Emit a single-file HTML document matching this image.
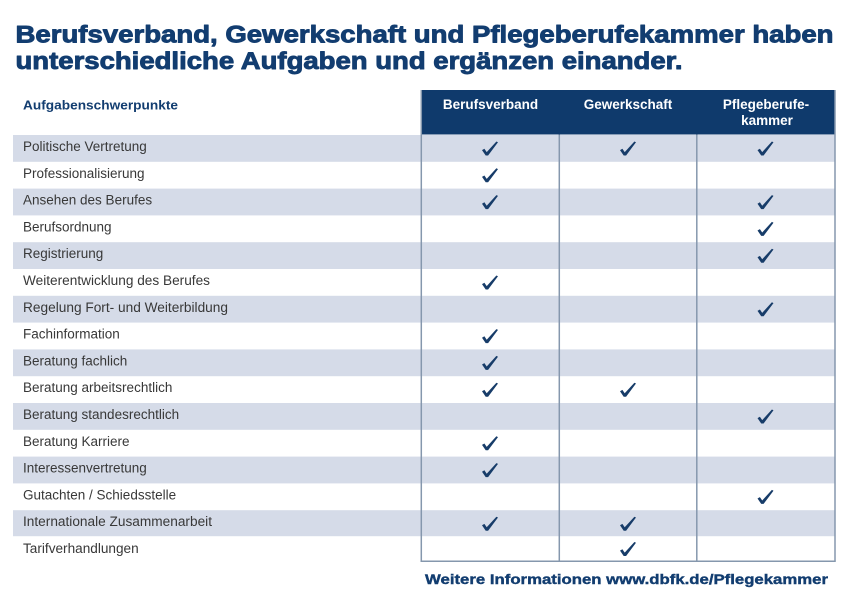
<!DOCTYPE html>
<html><head><meta charset="utf-8"><style>
html,body{margin:0;padding:0;background:#fff;}
svg{display:block;}
</style></head><body>
<svg width="848" height="616" viewBox="0 0 848 616" xmlns="http://www.w3.org/2000/svg">
<defs>
<path id="ck" d="M -8 1.6 L -5.6 0.2 L -3.3 3.6 L 6.4 -7 L 8 -6.2 L -1.9 7 L -4.3 7 Z" fill="#173c69"/>
</defs>
<rect width="848" height="616" fill="#fff"/>
<g font-family="'Liberation Sans', Arial, sans-serif" font-weight="bold" fill="#123d70" stroke="#123d70" stroke-width="0.9" stroke-linejoin="round" font-size="24">
<text x="15.5" y="42.5" textLength="818" lengthAdjust="spacingAndGlyphs">Berufsverband, Gewerkschaft und Pflegeberufekammer haben</text>
<text x="15.5" y="69" textLength="667" lengthAdjust="spacingAndGlyphs">unterschiedliche Aufgaben und ergänzen einander.</text>
</g>
<!-- header -->
<rect x="421" y="90" width="414" height="44.5" fill="#0f3a6c"/>
<g font-family="'Liberation Sans', Arial, sans-serif" font-weight="bold" font-size="13.5">
<text x="23" y="109.3" fill="#123d70" font-size="13" textLength="155" lengthAdjust="spacingAndGlyphs">Aufgabenschwerpunkte</text>
<text x="490.5" y="109" fill="#fff" text-anchor="middle">Berufsverband</text>
<text x="628" y="109" fill="#fff" text-anchor="middle">Gewerkschaft</text>
<text x="766" y="109" fill="#fff" text-anchor="middle">Pflegeberufe-</text>
<text x="767" y="125" fill="#fff" text-anchor="middle">kammer</text>
</g>
<!-- stripes -->
<g fill="#d5dbe8">
<rect x="13" y="135" width="822" height="26.8"/>
<rect x="13" y="188.6" width="822" height="26.8"/>
<rect x="13" y="242.2" width="822" height="26.8"/>
<rect x="13" y="295.8" width="822" height="26.8"/>
<rect x="13" y="349.4" width="822" height="26.8"/>
<rect x="13" y="403" width="822" height="26.8"/>
<rect x="13" y="456.6" width="822" height="26.8"/>
<rect x="13" y="510.2" width="822" height="26"/>
</g>
<!-- grid lines -->
<g stroke="#8597ad" stroke-width="1.5" fill="none">
<line x1="421.3" y1="90" x2="421.3" y2="561.5"/>
<line x1="559.3" y1="134.5" x2="559.3" y2="561.5"/>
<line x1="696.8" y1="134.5" x2="696.8" y2="561.5"/>
<line x1="835" y1="90" x2="835" y2="561.5"/>
<line x1="420.5" y1="561.3" x2="835.7" y2="561.3"/>
</g>
<!-- row labels -->
<g font-family="'Liberation Sans', Arial, sans-serif" font-size="13.5" fill="#383838">
<text x="23" y="151">Politische Vertretung</text>
<text x="23" y="177.8">Professionalisierung</text>
<text x="23" y="204.6">Ansehen des Berufes</text>
<text x="23" y="231.4">Berufsordnung</text>
<text x="23" y="258.2">Registrierung</text>
<text x="23" y="285" textLength="187" lengthAdjust="spacingAndGlyphs">Weiterentwicklung des Berufes</text>
<text x="23" y="311.8" textLength="205" lengthAdjust="spacingAndGlyphs">Regelung Fort- und Weiterbildung</text>
<text x="23" y="338.6">Fachinformation</text>
<text x="23" y="365.4">Beratung fachlich</text>
<text x="23" y="392.2">Beratung arbeitsrechtlich</text>
<text x="23" y="419">Beratung standesrechtlich</text>
<text x="23" y="445.8">Beratung Karriere</text>
<text x="23" y="472.6">Interessenvertretung</text>
<text x="23" y="499.4">Gutachten / Schiedsstelle</text>
<text x="23" y="526.2" textLength="189" lengthAdjust="spacingAndGlyphs">Internationale Zusammenarbeit</text>
<text x="23" y="553" textLength="115.7" lengthAdjust="spacingAndGlyphs">Tarifverhandlungen</text>
</g>
<!-- checks -->
<g>
<use href="#ck" x="490" y="148.5"/><use href="#ck" x="628" y="148.5"/><use href="#ck" x="765.5" y="148.5"/>
<use href="#ck" x="490" y="175.3"/>
<use href="#ck" x="490" y="202.1"/><use href="#ck" x="765.5" y="202.1"/>
<use href="#ck" x="765.5" y="228.9"/>
<use href="#ck" x="765.5" y="255.7"/>
<use href="#ck" x="490" y="282.5"/>
<use href="#ck" x="765.5" y="309.3"/>
<use href="#ck" x="490" y="336.1"/>
<use href="#ck" x="490" y="362.9"/>
<use href="#ck" x="490" y="389.7"/><use href="#ck" x="628" y="389.7"/>
<use href="#ck" x="765.5" y="416.5"/>
<use href="#ck" x="490" y="443.3"/>
<use href="#ck" x="490" y="470.1"/>
<use href="#ck" x="765.5" y="496.9"/>
<use href="#ck" x="490" y="523.7"/><use href="#ck" x="628" y="523.7"/>
<use href="#ck" x="628" y="549"/>
</g>
<text x="425" y="584" font-family="'Liberation Sans', Arial, sans-serif" font-weight="bold" font-size="14" fill="#123d70" stroke="#123d70" stroke-width="0.4" textLength="403" lengthAdjust="spacingAndGlyphs">Weitere Informationen www.dbfk.de/Pflegekammer</text>
</svg>
</body></html>
